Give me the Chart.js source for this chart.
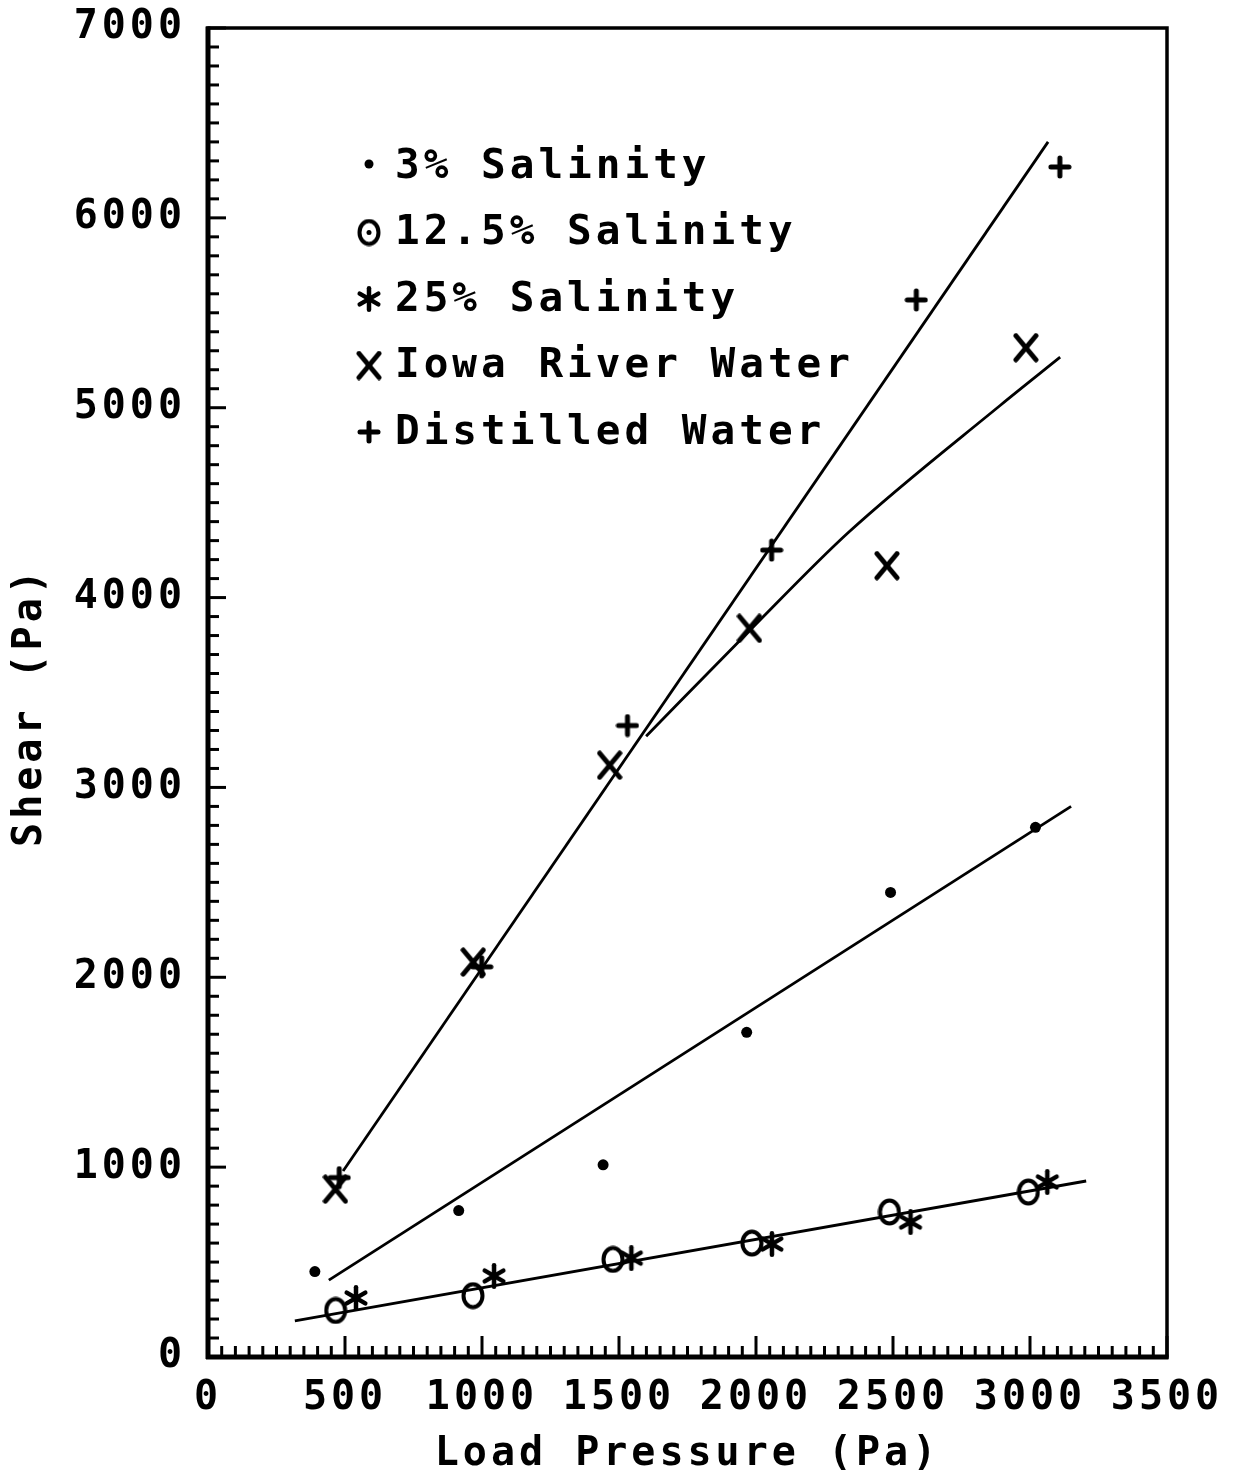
<!DOCTYPE html>
<html>
<head>
<meta charset="utf-8">
<title>Shear vs Load Pressure</title>
<script src="https://cdn.jsdelivr.net/npm/chart.js@4.4.1/dist/chart.umd.min.js"></script>
<style>
  html, body { margin: 0; padding: 0; background: #fff; }
  #wrap { width: 1236px; height: 1470px; }
  canvas { display: block; }
</style>
</head>
<body>
<div id="wrap"><canvas id="chart" width="1236" height="1470"></canvas></div>
<script>
// ---- measured series (load pressure in Pa, shear in Pa) ----
const seriesLabels = ['3% Salinity', '12.5% Salinity', '25% Salinity', 'Iowa River Water', 'Distilled Water'];

const loadSal3  = [390, 915, 1442, 1966, 2491, 3020];
const shearSal3 = [450, 771, 1012, 1710, 2447, 2790];

const loadSal125  = [466, 967, 1478, 1985, 2487, 2994];
const shearSal125 = [245, 323, 514, 600, 764, 869];

const loadSal25  = [540, 1044, 1545, 2058, 2564, 3063];
const shearSal25 = [311, 427, 521, 595, 711, 922];

const loadIowa  = [465, 968, 1466, 1976, 2478, 2985];
const shearIowa = [884, 2080, 3117, 3838, 4168, 5316];

const loadDist  = [479, 999, 1531, 2057, 2585, 3109];
const shearDist = [945, 2055, 3326, 4250, 5568, 6268];

// ---- fitted curves (end / knot points) ----
const fitSal3X = [441, 3150];
const fitSal3Y = [405, 2900];
const fitSaltX = [317, 3205];
const fitSaltY = [190, 927];
const fitDistX = [493, 3066];
const fitDistY = [980, 6400];
const fitIowaX = [1599, 1978, 2338, 2892, 3110];
const fitIowaY = [3270, 3828, 4344, 5013, 5266];

// ---- axis ticks ----
const xTickStep = 500, xMinorStep = 50, xMax = 3500;
const yTickStep = 1000, yMinorStep = 100, yMax = 7000;

const FONT = 'DejaVu Sans Mono';

function pts(xs, ys) { return xs.map((x, i) => ({ x, y: ys[i] })); }

// glyph-like marker images
function makeAsterisk(size, lw) {
  const c = document.createElement('canvas');
  c.width = c.height = size;
  const g = c.getContext('2d');
  g.strokeStyle = '#000'; g.lineWidth = lw; g.lineCap = 'round';
  const r = size / 2 - lw / 2, cx = size / 2;
  for (const a of [90, 30, 150]) {
    const t = a * Math.PI / 180;
    g.beginPath();
    g.moveTo(cx - r * Math.cos(t), cx - r * Math.sin(t));
    g.lineTo(cx + r * Math.cos(t), cx + r * Math.sin(t));
    g.stroke();
  }
  return c;
}
function makeO(w, h, lw) {
  const c = document.createElement('canvas');
  c.width = w; c.height = h;
  const g = c.getContext('2d');
  g.strokeStyle = '#000'; g.lineWidth = lw;
  g.beginPath();
  g.ellipse(w / 2, h / 2, w / 2 - lw / 2 - 0.5, h / 2 - lw / 2 - 0.5, 0, 0, Math.PI * 2);
  g.stroke();
  return c;
}
function makeX(w, h, lw) {
  const c = document.createElement('canvas');
  c.width = w; c.height = h;
  const g = c.getContext('2d');
  g.strokeStyle = '#000'; g.lineWidth = lw; g.lineCap = 'round';
  const p = lw / 2 + 0.5;
  g.beginPath(); g.moveTo(p, p); g.lineTo(w - p, h - p); g.stroke();
  g.beginPath(); g.moveTo(w - p, p); g.lineTo(p, h - p); g.stroke();
  return c;
}
function makePlus(size, lw) {
  const c = document.createElement('canvas');
  c.width = c.height = size;
  const g = c.getContext('2d');
  g.strokeStyle = '#000'; g.lineWidth = lw; g.lineCap = 'round';
  const p = lw / 2 + 0.5, m = size / 2;
  g.beginPath(); g.moveTo(p, m); g.lineTo(size - p, m); g.stroke();
  g.beginPath(); g.moveTo(m, p); g.lineTo(m, size - p); g.stroke();
  return c;
}

const starImg = makeAsterisk(26, 4.5);
const oImg = makeO(24, 28, 4);
const xImg = makeX(26, 30, 5);
const plusImg = makePlus(24, 5);

function markerSet(label, xs, ys, style, radius) {
  return {
    label, data: pts(xs, ys), order: 1, showLine: false,
    pointStyle: style, pointRadius: radius, pointHoverRadius: radius,
    pointBackgroundColor: '#000', pointBorderColor: '#000', pointBorderWidth: 0,
    isMarker: true
  };
}
function fitSet(xs, ys, smooth) {
  return {
    label: '', data: pts(xs, ys), order: 2, showLine: true,
    borderColor: '#000', borderWidth: 2.8, pointRadius: 0, pointHoverRadius: 0,
    cubicInterpolationMode: smooth ? 'monotone' : 'default',
    tension: 0, fill: false, isMarker: false
  };
}

const datasets = [
  markerSet(seriesLabels[0], loadSal3, shearSal3, 'circle', 5.5),
  markerSet(seriesLabels[1], loadSal125, shearSal125, oImg, 12),
  markerSet(seriesLabels[2], loadSal25, shearSal25, starImg, 12),
  markerSet(seriesLabels[3], loadIowa, shearIowa, xImg, 13),
  markerSet(seriesLabels[4], loadDist, shearDist, plusImg, 12),
  fitSet(fitSal3X, fitSal3Y, false),
  fitSet(fitSaltX, fitSaltY, false),
  fitSet(fitDistX, fitDistY, false),
  fitSet(fitIowaX, fitIowaY, true)
];

// wide plotter-style character spacing for all text
const spacing = {
  id: 'letterSpacing',
  beforeLayout(chart) { chart.ctx.letterSpacing = '4px'; },
  beforeDraw(chart) { chart.ctx.letterSpacing = '4px'; }
};

// frame with inward major/minor tick marks
const frame = {
  id: 'frame',
  afterDraw(chart) {
    const { ctx, chartArea: { left, right, top, bottom }, scales: { x, y } } = chart;
    ctx.save();
    ctx.strokeStyle = '#000';
    const seg = (x1, y1, x2, y2) => { ctx.beginPath(); ctx.moveTo(x1, y1); ctx.lineTo(x2, y2); ctx.stroke(); };
    ctx.lineWidth = 3.5;
    ctx.strokeRect(left, top, right - left, bottom - top);
    ctx.lineWidth = 5;
    seg(left, top - 1.5, left, bottom + 2);
    seg(left - 2, bottom, right + 1.5, bottom);
    ctx.lineWidth = 3;
    for (let v = 0; v <= yMax; v += yMinorStep) {
      const py = y.getPixelForValue(v);
      const len = v % yTickStep === 0 ? 18 : 11;
      seg(left, py, left + len, py);
    }
    for (let v = 0; v <= xMax; v += xMinorStep) {
      const px = x.getPixelForValue(v);
      const len = v % xTickStep === 0 ? 21 : 11;
      seg(px, bottom, px, bottom - len);
    }
    ctx.restore();
  }
};

// legend inside the plot: glyph followed by series name
const legendBox = {
  id: 'legendBox',
  afterDraw(chart) {
    const { ctx } = chart;
    const markers = chart.data.datasets.filter(d => d.isMarker);
    const markX = 369, textX = 395, firstY = 166, rowH = 66.5;
    ctx.save();
    ctx.fillStyle = '#000';
    ctx.strokeStyle = '#000';
    ctx.font = 'bold 41px "' + FONT + '"';
    ctx.letterSpacing = '4px';
    ctx.textBaseline = 'middle';
    ctx.textAlign = 'left';
    markers.forEach((d, i) => {
      const cy = firstY + i * rowH;
      const st = d.pointStyle;
      if (st === 'circle') {
        ctx.beginPath(); ctx.arc(markX, cy - 2, 4.5, 0, Math.PI * 2); ctx.fill();
      } else {
        ctx.drawImage(st, markX - st.width / 2, cy - st.height / 2);
        if (st === oImg) { ctx.beginPath(); ctx.arc(markX, cy, 2.5, 0, Math.PI * 2); ctx.fill(); }
      }
      ctx.fillText(d.label, textX, cy + 1);
    });
    ctx.restore();
  }
};

const tickFont = { family: FONT, weight: 'bold', size: 40, lineHeight: 1 };
const plainNumber = v => String(v);

new Chart(document.getElementById('chart'), {
  type: 'scatter',
  data: { datasets },
  options: {
    responsive: false,
    animation: false,
    devicePixelRatio: 1,
    layout: { padding: { top: 28, right: 69, left: 0, bottom: 0 } },
    plugins: { legend: { display: false }, tooltip: { enabled: false } },
    scales: {
      x: {
        type: 'linear', min: 0, max: xMax,
        ticks: { stepSize: xTickStep, color: '#000', font: tickFont, padding: 22, maxRotation: 0, autoSkip: false, callback: plainNumber },
        grid: { display: false, drawTicks: false },
        border: { display: false },
        title: { display: true, text: 'Load Pressure (Pa)', color: '#000', font: { ...tickFont, lineHeight: 0.75 }, padding: { top: 0, bottom: 0 } },
        afterFit(scale) { scale.height = 113; scale.paddingLeft = 0; scale.paddingRight = 0; }
      },
      y: {
        type: 'linear', min: 0, max: yMax,
        ticks: { stepSize: yTickStep, color: '#000', font: tickFont, padding: 22, autoSkip: false, callback: plainNumber },
        grid: { display: false, drawTicks: false },
        border: { display: false },
        title: { display: true, text: 'Shear (Pa) ', color: '#000', font: tickFont, padding: { top: 11, bottom: 0 } },
        afterFit(scale) { scale.width = 208; scale.paddingTop = 0; scale.paddingBottom = 0; }
      }
    }
  },
  plugins: [spacing, frame, legendBox]
});
</script>
</body>
</html>
